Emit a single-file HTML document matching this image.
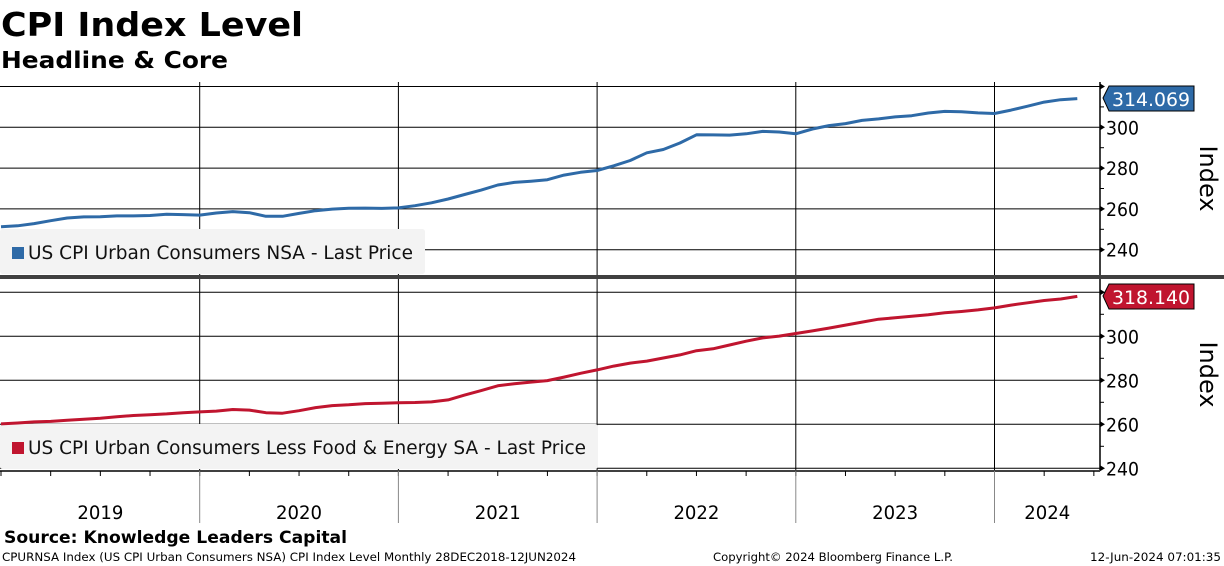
<!DOCTYPE html>
<html><head><meta charset="utf-8"><style>
html,body{margin:0;padding:0;background:#fff;}
svg{display:block;font-family:"Liberation Sans",sans-serif;}
</style></head><body>
<svg id="chart" width="1224" height="566" viewBox="0 0 1224 566" xmlns="http://www.w3.org/2000/svg">
<text x="1" y="36" font-family="DejaVu Sans" font-weight="bold" font-size="33" textLength="302" lengthAdjust="spacingAndGlyphs">CPI Index Level</text>
<text x="1" y="68" font-family="DejaVu Sans" font-weight="bold" font-size="23" textLength="227" lengthAdjust="spacingAndGlyphs">Headline &amp; Core</text>
<g id="top"></g><g id="bot"></g><g id="xaxis"></g>
<rect x="0" y="275" width="1224" height="4" fill="#404040"/>
<text x="4" y="543" font-family="DejaVu Sans" font-weight="bold" font-size="17" textLength="343" lengthAdjust="spacingAndGlyphs">Source: Knowledge Leaders Capital</text>
<text x="2" y="561" font-family="DejaVu Sans" font-size="11.5" textLength="574" lengthAdjust="spacingAndGlyphs">CPURNSA Index (US CPI Urban Consumers NSA) CPI Index Level  Monthly 28DEC2018-12JUN2024</text>
<text x="713" y="561" font-family="DejaVu Sans" font-size="11.5" textLength="240" lengthAdjust="spacingAndGlyphs">Copyright© 2024 Bloomberg Finance L.P.</text>
<text x="1090" y="561" font-family="DejaVu Sans" font-size="11.5" textLength="131" lengthAdjust="spacingAndGlyphs">12-Jun-2024 07:01:35</text>
</svg>
<script>
const headline = [251.233,
251.712,252.776,254.202,255.548,256.092,256.143,256.571,256.558,256.759,257.346,257.208,256.974,
257.971,258.678,258.115,256.389,256.394,257.797,259.101,259.918,260.280,260.388,260.229,260.474,
261.582,263.014,264.877,267.054,269.195,271.696,273.003,273.567,274.310,276.589,277.948,278.802,
281.148,283.716,287.504,289.109,292.296,296.311,296.276,296.171,296.808,298.012,297.711,296.797,
299.170,300.840,301.836,303.363,304.127,305.109,305.691,307.026,307.789,307.671,307.051,306.746,
308.417,310.326,312.332,313.548,314.069];
const core = [260.2,
260.596,261.100,261.323,261.848,262.253,262.785,263.441,264.003,264.383,264.721,265.278,265.656,
266.004,266.734,266.461,265.292,265.065,266.177,267.602,268.480,268.868,269.406,269.578,269.832,
269.930,270.183,271.102,273.263,275.322,277.506,278.446,279.184,279.879,281.475,283.162,284.720,
286.435,287.829,288.739,290.115,291.542,293.454,294.300,296.023,297.776,299.261,300.098,301.267,
302.466,303.745,305.109,306.463,307.755,308.389,309.079,309.777,310.663,311.290,312.016,312.925,
314.161,315.218,316.269,316.958,318.140];
const yTicks = [240,260,280,300,320];
const yTickLabels = ["240","260","280","300",""];
const years = ["2019","2020","2021","2022","2023","2024"];
const lastLabels = ["314.069","318.140"];

const NS="http://www.w3.org/2000/svg";
const X0=1, MW=198.7/12, AX=1100;
function xm(i){return X0+i*MW;}
function mk(p,t,a){const e=document.createElementNS(NS,t);for(const k in a)e.setAttribute(k,a[k]);p.appendChild(e);return e;}

function panel(g,data,y300,ppu,top,bottom,color,legend,legW,legY,tag,tagY,name){
  const y=v=>y300-(v-300)*ppu;
  const lg=mk(g,'g',{});
  
  
  mk(lg,'rect',{x:0,y:legY,width:legW,height:45,fill:'#f2f2f2',rx:3});
  for(let k=1;k<years.length;k++){
    const l=mk(g,'line',{x1:X0+k*198.7,x2:X0+k*198.7,y1:top,y2:bottom,stroke:'#000','stroke-width':1});
    
    
  }
  yTicks.forEach((v,i)=>{
    const yy=y(v);
    if(yy<top||yy>bottom+1)return;
    const l=mk(g,'line',{x1:0,x2:AX,y1:yy,y2:yy,stroke:'#000','stroke-width':1});
    
    
    mk(g,'path',{d:`M${AX} ${yy-3}L${AX+5} ${yy}L${AX} ${yy+3}Z`,fill:'#000'});
    if(yTickLabels[i]){
      const t=mk(g,'text',{x:AX+6,y:yy+7,'font-size':19,'font-family':'DejaVu Sans',textLength:33,lengthAdjust:'spacingAndGlyphs'});
      t.textContent=yTickLabels[i];
      
      
    }
    const mv=v+10, my=y(mv);
    if(my>top&&my<bottom) mk(g,'line',{x1:AX,x2:AX+4,y1:my,y2:my,stroke:'#000'});
  });
  // translucent legend overlay so gridlines appear faint beneath
  mk(lg,'rect',{x:0,y:legY,width:legW,height:45,fill:'#f2f2f2',rx:3,'fill-opacity':0.8});
  mk(lg,'rect',{x:12,y:legY+18,width:12,height:12,fill:color});
  const lt=mk(lg,'text',{x:28,y:legY+30,'font-size':19,'font-family':'DejaVu Sans',fill:'#111'});
  lt.textContent=legend;
  lt.setAttribute('textLength',legW-40);
  lt.setAttribute('lengthAdjust','spacingAndGlyphs');
  g.appendChild(lg);
  const ax=mk(g,'line',{x1:AX,x2:AX,y1:top,y2:bottom,stroke:'#000','stroke-width':1.5});
  
  
  const yl=mk(g,'text',{x:0,y:0,'font-size':24,'font-family':'DejaVu Sans','text-anchor':'middle',transform:`translate(1200,${(top+bottom)/2}) rotate(90)`});
  yl.textContent='Index';
  
  
  const pts=data.map((v,i)=>xm(i).toFixed(1)+','+y(v).toFixed(1)).join(' ');
  const pl=mk(g,'polyline',{points:pts,fill:'none',stroke:color,'stroke-width':3,'stroke-linejoin':'round'});
  
  
  const tg=mk(g,'g',{});
  
  
  mk(tg,'path',{d:`M1103 ${tagY+12}L1109 ${tagY}H1194V${tagY+25}H1109Z`,fill:color,stroke:'#000','stroke-width':1});
  const tt=mk(tg,'text',{x:1112,y:tagY+20,'font-size':19,'font-family':'DejaVu Sans',fill:'#fff',textLength:78,lengthAdjust:'spacingAndGlyphs'});
  tt.textContent=tag;
}
panel(document.getElementById('top'),headline,127.3,2.04,82,275,'#2e6aa7','US CPI Urban Consumers NSA - Last Price',425,229,lastLabels[0],86,'headline-cpi-line');
panel(document.getElementById('bot'),core,336.3,2.2,279,470,'#c0152f','US CPI Urban Consumers Less Food & Energy SA - Last Price',598,424,lastLabels[1],284,'core-cpi-line');

const xg=document.getElementById('xaxis');
const xl=mk(xg,'line',{x1:0,x2:AX,y1:471,y2:471,stroke:'#000','stroke-width':1.5});


for(let q=0;q<=22;q++){
  const x=X0+q*198.7/4;
  if(x>AX)break;
  mk(xg,'line',{x1:x,x2:x,y1:471,y2:476,stroke:'#000'});
}
years.forEach((yr,k)=>{
  const x0=X0+k*198.7, x1=Math.min(X0+(k+1)*198.7,AX);
  if(k>0) mk(xg,'line',{x1:x0,x2:x0,y1:471,y2:523,stroke:'#888'});
  const t=mk(xg,'text',{x:(x0+x1)/2,y:519,'font-size':19,'font-family':'DejaVu Sans','text-anchor':'middle',textLength:46,lengthAdjust:'spacingAndGlyphs'});
  t.textContent=yr;
  
  
});
</script>
</body></html>
